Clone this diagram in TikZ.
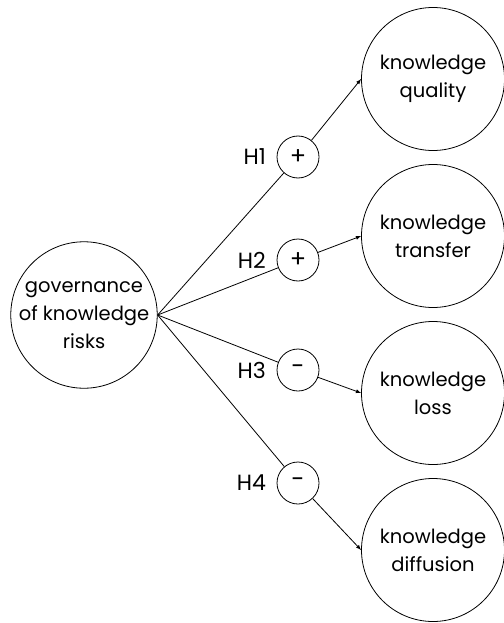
\documentclass[tikz,border=0pt]{standalone}
\usepackage{fontspec}
\setmainfont{Poppins}
\usetikzlibrary{positioning}

\begin{document}
\begin{tikzpicture}[x=1pt,y=-1pt,line width=0.8pt,
  bigcirc/.style={circle,draw,inner sep=0pt,minimum size=143pt,align=center,font=\fontsize{19.5}{28}\selectfont},
  signcirc/.style={circle,draw,inner sep=0pt,minimum size=42pt,font=\fontsize{24}{26}\selectfont},
  hlabel/.style={font=\fontsize{22}{24}\selectfont,left=7pt of #1}]
\useasboundingbox (0,0) rectangle (503,623);
\node[bigcirc] (gov) at (84,315) {governance\\of knowledge\\risks};
\node[bigcirc] (quality) at (433,79) {knowledge\\quality};
\node[bigcirc] (transfer) at (433,236) {knowledge\\transfer};
\node[bigcirc] (loss) at (433,393) {knowledge\\loss};
\node[bigcirc] (diffusion) at (433,550) {knowledge\\diffusion};

\node[signcirc] (h1) at (298,157) {+};
\node[signcirc] (h2) at (298,260) {+};
\node[signcirc] (h3) at (298,370) {-};
\node[signcirc] (h4) at (298,483) {-};
\node[hlabel=h1] (l1) {H1};
\node[hlabel=h2] (l2) {H2};
\node[hlabel=h3] (l3) {H3};
\node[hlabel=h4] (l4) {H4};

\draw (gov.east) -- (h1);
\draw (gov.east) -- (h2);
\draw (gov.east) -- (h3);
\draw (gov.east) -- (h4);
\draw[-latex] (h1) -- (quality.west);
\draw[-latex] (h2) -- (transfer.west);
\draw[-latex] (h3) -- (loss.west);
\draw[-latex] (h4) -- (diffusion.west);
\end{tikzpicture}
\end{document}
